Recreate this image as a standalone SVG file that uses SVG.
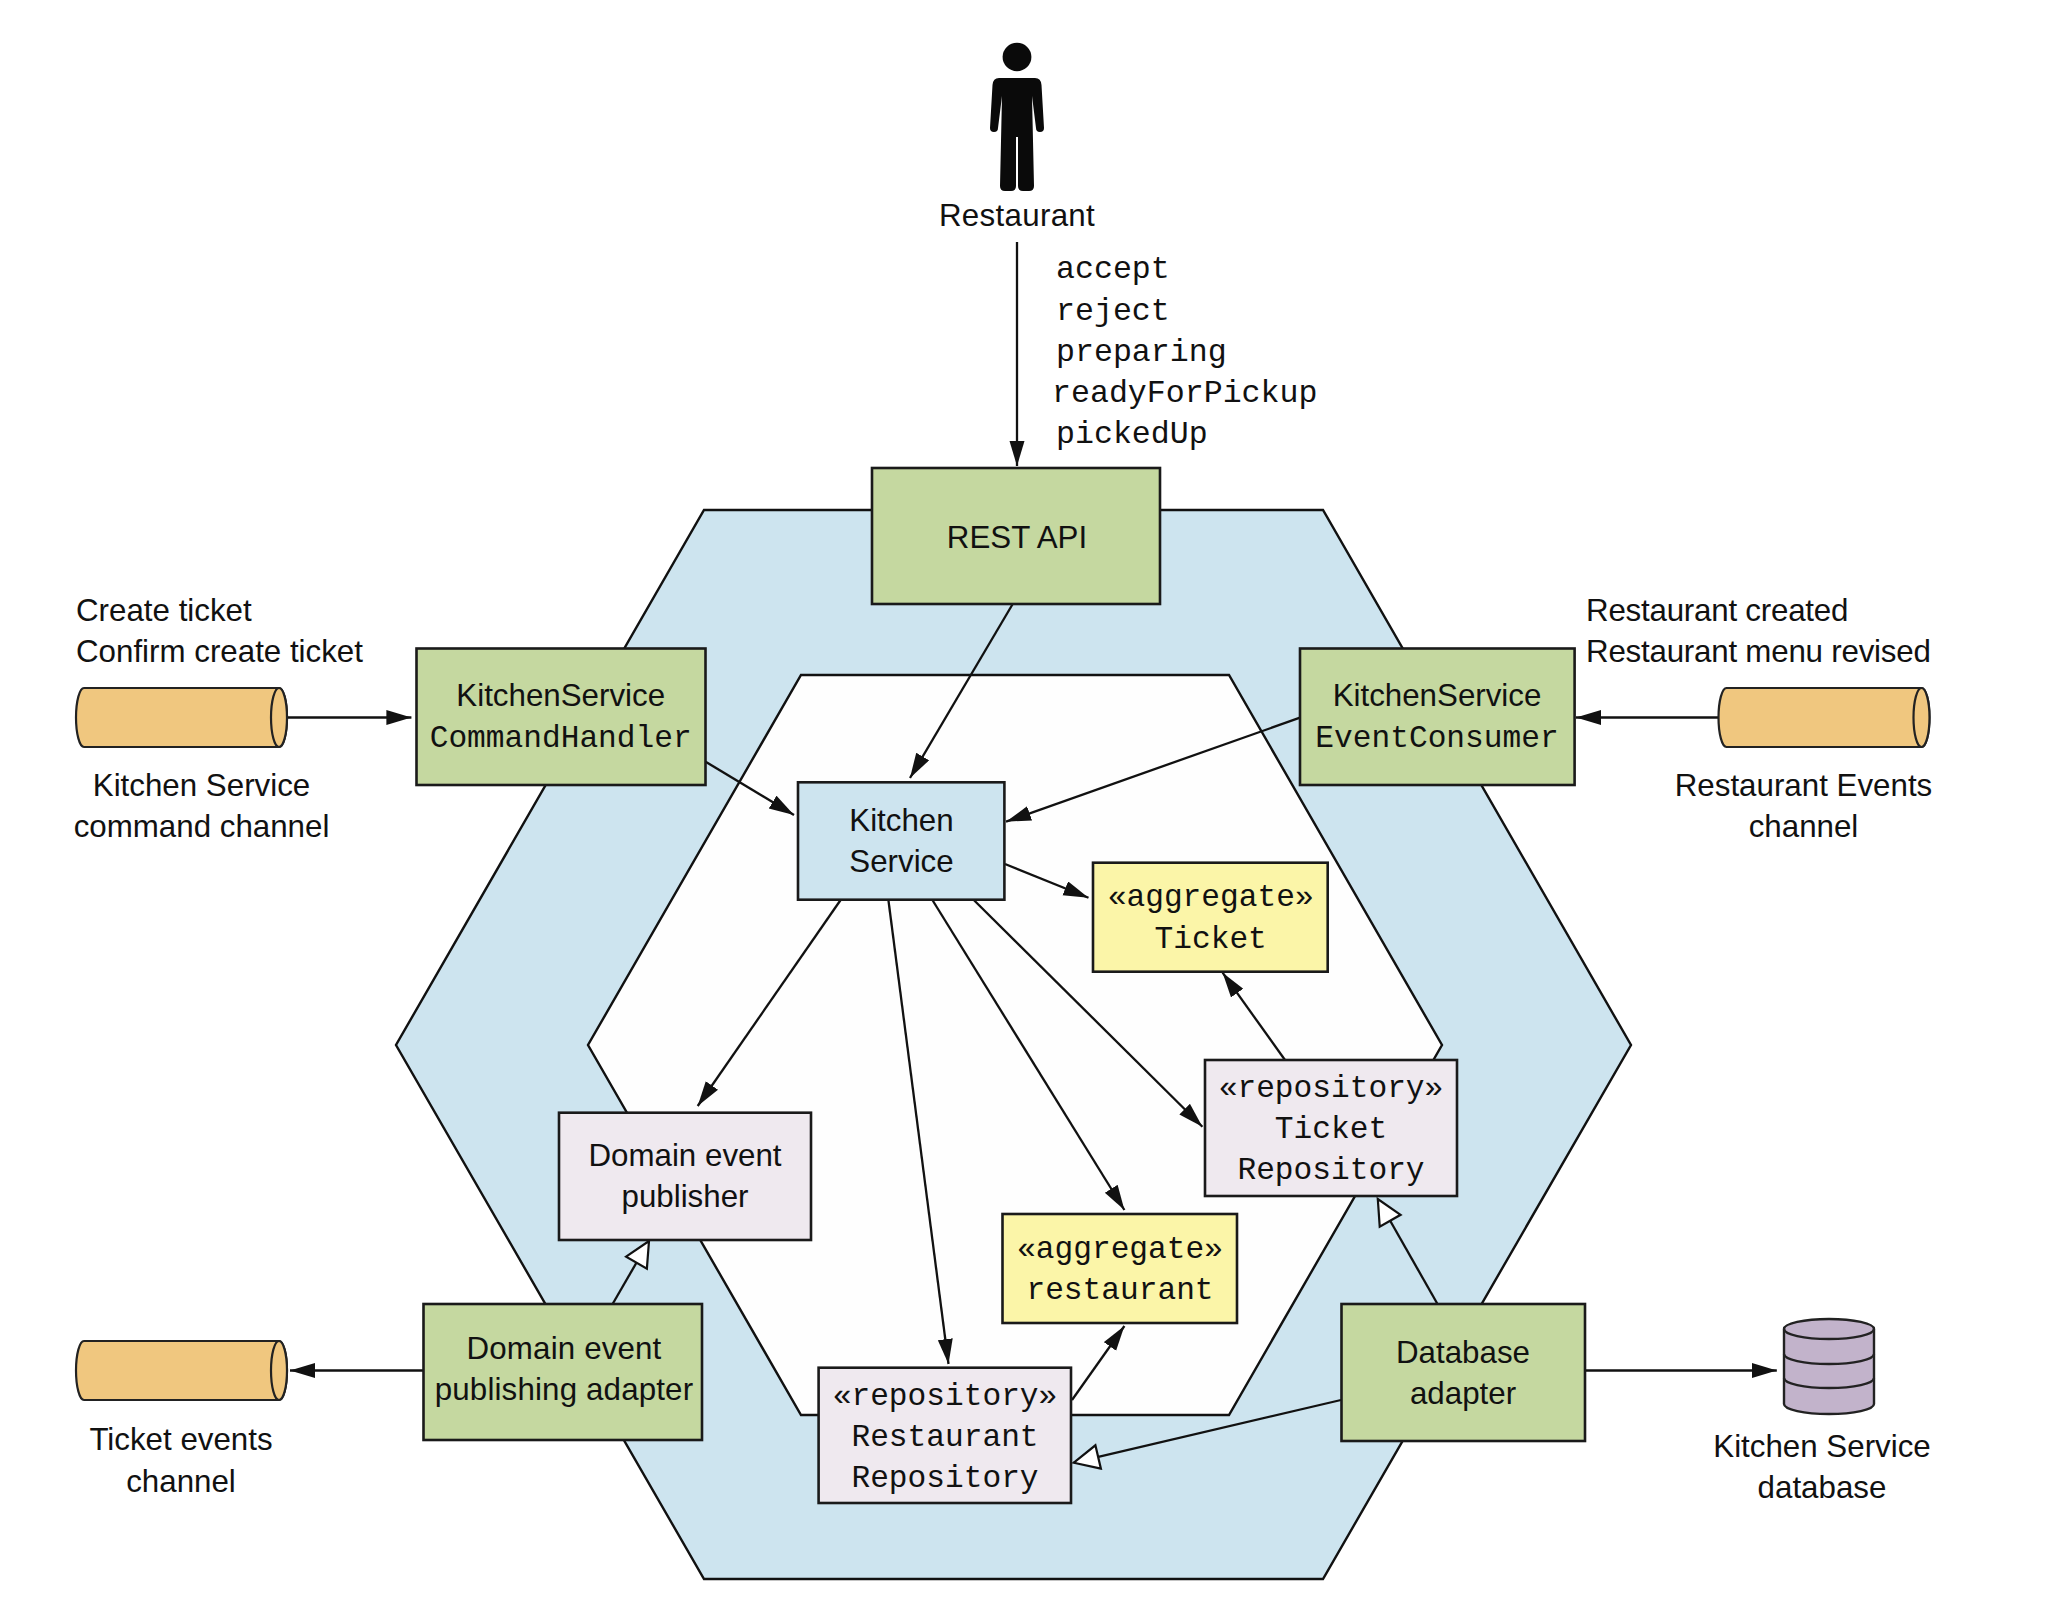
<svg xmlns="http://www.w3.org/2000/svg" width="2072" height="1608" viewBox="0 0 2072 1608">
<style>
text{font-family:"Liberation Sans",Arial,sans-serif;font-size:31.3px;fill:#111}
.m{font-family:"Liberation Mono","Courier New",monospace;font-size:31.2px}
.ops{font-size:31.6px}
.c{text-anchor:middle}
.b{stroke:#1a1a1a;stroke-width:2.6}
.green{fill:#c5d8a0}.blue{fill:#cde4ef}.yellow{fill:#fbf5a8}.pale{fill:#efe9ef}
.hex{stroke:#111;stroke-width:2.4}
.ln{fill:none;stroke:#111;stroke-width:2.3}
.solid{marker-end:url(#a)}.open{marker-end:url(#o)}
</style>
<defs>
<marker id="a" markerUnits="userSpaceOnUse" markerWidth="26" markerHeight="16" refX="25" refY="7.5" orient="auto"><path d="M0 0L25 7.5L0 15Z" fill="#111"/></marker>
<marker id="o" markerUnits="userSpaceOnUse" markerWidth="30" markerHeight="28" refX="27" refY="14" orient="auto"><path d="M2 2L27 14L2 26Z" fill="#fff" stroke="#111" stroke-width="2.2"/></marker>
<g id="cyl"><path d="M8 0H203A8 29.5 0 0 1 203 59H8A8 29.5 0 0 1 8 0Z" fill="#f0c77f" stroke="#222" stroke-width="2.2"/><ellipse cx="203" cy="29.5" rx="8" ry="29.5" fill="#f0c77f" stroke="#222" stroke-width="2.2"/></g>
</defs>
<rect width="2072" height="1608" fill="#fff"/>
<g id="hexagons">
<polygon class="hex" fill="#cde4ef" points="704,510 1323,510 1631,1045 1323,1579 704,1579 396,1045"/>
<polygon class="hex" fill="#fefefe" points="801,675 1229,675 1442,1045 1229,1415 801,1415 588,1045"/>
</g>
<g id="connectors">
<line class="ln solid" x1="1017" y1="242" x2="1017" y2="466"/>
<line class="ln solid" x1="1012.7" y1="604" x2="910" y2="778"/>
<line class="ln solid" x1="705.6" y1="761.7" x2="794" y2="815"/>
<line class="ln solid" x1="1300" y1="717.7" x2="1006" y2="821.7"/>
<line class="ln solid" x1="1005" y1="864" x2="1088.5" y2="897.7"/>
<line class="ln solid" x1="973.8" y1="900" x2="1202.4" y2="1126.7"/>
<line class="ln solid" x1="932.4" y1="900" x2="1124.4" y2="1210"/>
<line class="ln solid" x1="888.4" y1="900" x2="948.5" y2="1364"/>
<line class="ln solid" x1="840.6" y1="900" x2="697.7" y2="1106"/>
<line class="ln solid" x1="1285" y1="1060" x2="1222.6" y2="972.7"/>
<line class="ln solid" x1="1072" y1="1400" x2="1124.4" y2="1326"/>
<line class="ln open" x1="1437.5" y1="1304" x2="1377.8" y2="1199"/>
<line class="ln open" x1="1341" y1="1400" x2="1073.8" y2="1462.7"/>
<line class="ln open" x1="612.6" y1="1304" x2="649" y2="1241"/>
<line class="ln solid" x1="287" y1="717.5" x2="411.4" y2="717.5"/>
<line class="ln solid" x1="1718" y1="717.5" x2="1576" y2="717.5"/>
<line class="ln solid" x1="423.5" y1="1370.5" x2="290" y2="1370.5"/>
<line class="ln solid" x1="1585" y1="1370.5" x2="1776.8" y2="1370.5"/>
</g>
<g id="restaurant-actor">
<ellipse cx="1017" cy="57" rx="14.4" ry="14.2" fill="#0a0a0a"/>
<path fill="#0a0a0a" d="M999 78H1035Q1041 78 1041.5 85L1044 128Q1044 132 1040 132Q1036 132 1036 128L1032 96L1034 186Q1034 191 1029 191H1023Q1018 191 1018 186L1018 137H1016L1016 186Q1016 191 1011 191H1005Q1000 191 1000 186L1002 96L998 128Q998 132 994 132Q990 132 990 128L992.5 85Q993 78 999 78Z"/>
<text class="c" x="1017" y="226" style="letter-spacing:.3px">Restaurant</text>
</g>
<g id="operations">
<text class="m ops" x="1056" y="278">accept</text>
<text class="m ops" x="1056" y="320">reject</text>
<text class="m ops" x="1056" y="361">preparing</text>
<text class="m ops" x="1052" y="402">readyForPickup</text>
<text class="m ops" x="1056" y="443">pickedUp</text>
</g>
<g id="rest-api"><rect class="b green" x="872" y="468" width="288" height="136"/><text class="c" x="1017" y="548">REST API</text></g>
<g id="command-handler"><rect class="b green" x="416.5" y="648.5" width="289" height="136.5"/><text class="c" x="560.7" y="706">KitchenService</text><text class="m c" x="560.7" y="747">CommandHandler</text></g>
<g id="event-consumer"><rect class="b green" x="1300" y="648.5" width="274.6" height="136.5"/><text class="c" x="1437" y="706">KitchenService</text><text class="m c" x="1437" y="747">EventConsumer</text></g>
<g id="kitchen-service"><rect class="b blue" x="798" y="782.3" width="206.4" height="117.4"/><text class="c" x="901.5" y="831">Kitchen</text><text class="c" x="901.5" y="872">Service</text></g>
<g id="ticket-aggregate"><rect class="b yellow" x="1093" y="862.7" width="234.7" height="109"/><text class="m c" x="1210.7" y="906">«aggregate»</text><text class="m c" x="1210.7" y="948">Ticket</text></g>
<g id="ticket-repository"><rect class="b pale" x="1205" y="1060" width="252" height="136"/><text class="m c" x="1331" y="1096.500">«repository»</text><text class="m c" x="1331" y="1137.500">Ticket</text><text class="m c" x="1331" y="1179">Repository</text></g>
<g id="domain-event-publisher"><rect class="b pale" x="559" y="1112.7" width="252" height="127.3"/><text class="c" x="685" y="1166">Domain event</text><text class="c" x="685" y="1207">publisher</text></g>
<g id="restaurant-aggregate"><rect class="b yellow" x="1002.500" y="1214" width="234.5" height="109"/><text class="m c" x="1120" y="1258">«aggregate»</text><text class="m c" x="1120" y="1299">restaurant</text></g>
<g id="restaurant-repository"><rect class="b pale" x="818.6" y="1367.7" width="252.4" height="135.3"/><text class="m c" x="945" y="1405">«repository»</text><text class="m c" x="945" y="1446">Restaurant</text><text class="m c" x="945" y="1487">Repository</text></g>
<g id="publishing-adapter"><rect class="b green" x="423.5" y="1304" width="278.5" height="136"/><text class="c" x="564" y="1359" style="letter-spacing:.15px">Domain event</text><text class="c" x="564" y="1400" style="letter-spacing:.15px">publishing adapter</text></g>
<g id="database-adapter"><rect class="b green" x="1341.5" y="1304" width="243.5" height="137"/><text class="c" x="1463" y="1363">Database</text><text class="c" x="1463" y="1404">adapter</text></g>
<g id="command-channel"><use href="#cyl" x="76" y="688"/><text x="76" y="621">Create ticket</text><text x="76" y="662">Confirm create ticket</text><text class="c" x="201.500" y="796">Kitchen Service</text><text class="c" x="201.500" y="837">command channel</text></g>
<g id="restaurant-events-channel"><use href="#cyl" x="1718.5" y="688"/><text x="1586" y="621" style="letter-spacing:-.22px">Restaurant created</text><text x="1586" y="662" style="letter-spacing:-.22px">Restaurant menu revised</text><text class="c" x="1803.500" y="796">Restaurant Events</text><text class="c" x="1803.500" y="837">channel</text></g>
<g id="ticket-events-channel"><use href="#cyl" x="76" y="1341"/><text class="c" x="181" y="1450">Ticket events</text><text class="c" x="181" y="1492">channel</text></g>
<g id="kitchen-database">
<path d="M1784 1329A45 10 0 0 1 1874 1329V1404A45 10 0 0 1 1784 1404Z" fill="#c2b3cb" stroke="#222" stroke-width="2.4"/>
<path d="M1784 1329A45 10 0 0 0 1874 1329M1784 1354A45 10 0 0 0 1874 1354M1784 1378A45 10 0 0 0 1874 1378" fill="none" stroke="#222" stroke-width="2.4"/>
<text class="c" x="1822" y="1457">Kitchen Service</text><text class="c" x="1822" y="1498">database</text>
</g>
</svg>
